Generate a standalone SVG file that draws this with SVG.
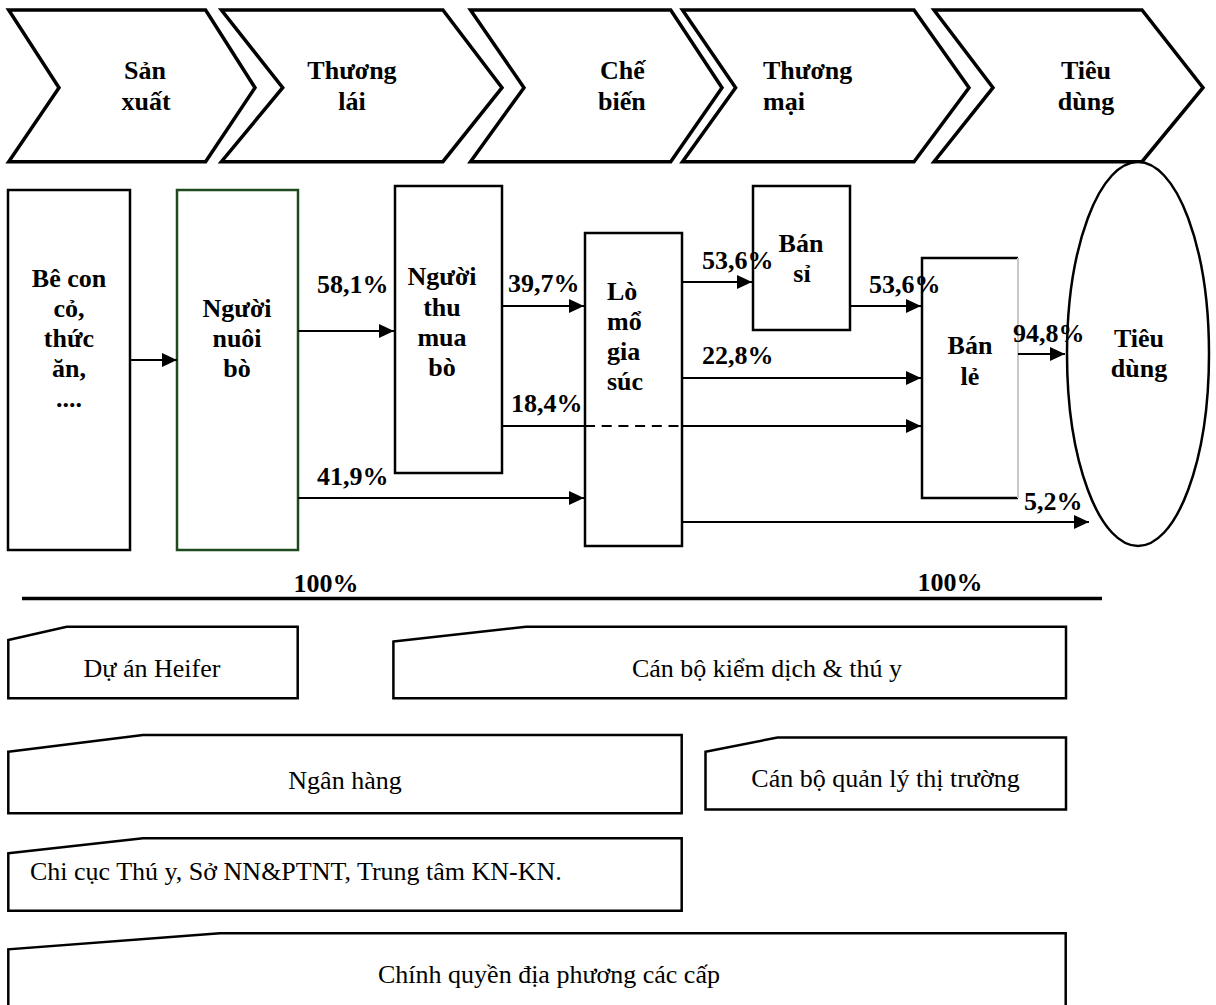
<svg xmlns="http://www.w3.org/2000/svg" width="1216" height="1005" viewBox="0 0 1216 1005">
<style>
.chev{fill:#fff;stroke:#000;stroke-width:3.5;stroke-linejoin:miter}
.box{fill:#fff;stroke:#000;stroke-width:2.5}
.tag{fill:#fff;stroke:#000;stroke-width:2.5;stroke-linejoin:miter}
.b{font-family:"Liberation Serif","Times New Roman",serif;font-weight:bold;font-size:26px;fill:#000}
.r{font-family:"Liberation Serif","Times New Roman",serif;font-size:26px;fill:#000}
.c{text-anchor:middle}
.ln{fill:none;stroke:#000;stroke-width:2}
</style>
<defs>
<marker id="ah" markerWidth="15" markerHeight="14" refX="15" refY="7" orient="auto" markerUnits="userSpaceOnUse"><path d="M0,0 L15,7 L0,14 z" fill="#000"/></marker>
</defs>
<rect width="1216" height="1005" fill="#fff"/>

<g id="stage-sanxuat">
<polygon class="chev" points="8.7,10 205.6,10 255,87.7 205.6,161.7 8.7,161.7 59,87.7"/>
<text class="b c" x="145" y="79">Sản</text><text class="b c" x="146" y="110">xuất</text>
</g>
<g id="stage-thuonglai">
<polygon class="chev" points="221.4,10 442.9,10 502,87.7 442.9,161.7 221.4,161.7 282.7,87.7"/>
<text class="b c" x="352" y="79">Thương</text><text class="b c" x="352" y="110">lái</text>
</g>
<g id="stage-chebien">
<polygon class="chev" points="470.5,10 670.7,10 722,87.7 670.7,161.7 470.5,161.7 524,87.7"/>
<text class="b" x="600" y="79">Chế</text><text class="b" x="598" y="110">biến</text>
</g>
<g id="stage-thuongmai">
<polygon class="chev" points="682.5,10 914,10 969,87.7 914,161.7 682.5,161.7 735.6,87.7"/>
<text class="b" x="763" y="79">Thương</text><text class="b" x="763" y="110">mại</text>
</g>
<g id="stage-tieudung">
<polygon class="chev" points="934,10 1142,10 1203,87.7 1142,161.7 934,161.7 993,87.7"/>
<text class="b c" x="1086" y="79">Tiêu</text><text class="b c" x="1086" y="110">dùng</text>
</g>

<g id="node-becon">
<rect class="box" x="8" y="190" width="122" height="360"/>
<text class="b c" x="69" y="287">Bê con</text>
<text class="b c" x="69" y="317">cỏ,</text>
<text class="b c" x="69" y="347">thức</text>
<text class="b c" x="69" y="377">ăn,</text>
<text class="b c" x="69" y="407">....</text>
</g>
<g id="node-nguoinuoibo">
<rect class="box" x="177" y="190" width="121" height="360" style="stroke:#1f4a1f"/>
<text class="b c" x="237" y="317">Người</text>
<text class="b c" x="237" y="347">nuôi</text>
<text class="b c" x="237" y="377">bò</text>
</g>
<g id="node-thumua">
<rect class="box" x="395" y="186" width="107" height="287"/>
<text class="b c" x="442" y="285">Người</text>
<text class="b c" x="442" y="316">thu</text>
<text class="b c" x="442" y="346">mua</text>
<text class="b c" x="442" y="376">bò</text>
</g>
<g id="node-lomo">
<rect class="box" x="585" y="233" width="97" height="313"/>
<text class="b" x="607" y="300">Lò</text>
<text class="b" x="607" y="330">mổ</text>
<text class="b" x="607" y="360">gia</text>
<text class="b" x="607" y="390">súc</text>
</g>
<g id="node-bansi">
<rect class="box" x="753" y="186" width="97" height="144"/>
<text class="b c" x="801" y="252">Bán</text>
<text class="b c" x="802" y="282">sỉ</text>
</g>
<g id="node-banle">
<path d="M1018,258 H922 V498 H1018" fill="#fff" stroke="#000" stroke-width="2.5"/>
<path d="M1018,258 V498" fill="none" stroke="#c8c8c8" stroke-width="2"/>
<text class="b c" x="970" y="354">Bán</text>
<text class="b c" x="970" y="385">lẻ</text>
</g>
<g id="node-tieudung">
<ellipse cx="1138" cy="354" rx="71" ry="192" fill="#fff" stroke="#000" stroke-width="2.5"/>
<text class="b c" x="1139" y="347">Tiêu</text>
<text class="b c" x="1139" y="377">dùng</text>
</g>

<g id="connectors">
<path class="ln" d="M130,360 H177" marker-end="url(#ah)"/>
<path class="ln" d="M298,331 H394" marker-end="url(#ah)"/>
<path class="ln" d="M298,498 H584" marker-end="url(#ah)"/>
<path class="ln" d="M502,306 H584" marker-end="url(#ah)"/>
<path class="ln" d="M502,426 H585"/>
<path class="ln" d="M585,426 H682" stroke-dasharray="10 6.7"/>
<path class="ln" d="M682,426 H921" marker-end="url(#ah)"/>
<path class="ln" d="M682,282 H752" marker-end="url(#ah)"/>
<path class="ln" d="M682,378 H921" marker-end="url(#ah)"/>
<path class="ln" d="M850,306 H921" marker-end="url(#ah)"/>
<path class="ln" d="M1018,354 H1065" marker-end="url(#ah)"/>
<path class="ln" d="M682,522 H1089" marker-end="url(#ah)"/>
<text class="b" x="317" y="293">58,1%</text>
<text class="b" x="317" y="485">41,9%</text>
<text class="b" x="508" y="292">39,7%</text>
<text class="b" x="511" y="412">18,4%</text>
<text class="b" x="702" y="269">53,6%</text>
<text class="b" x="702" y="364">22,8%</text>
<text class="b" x="869" y="293">53,6%</text>
<text class="b" x="1013" y="342">94,8%</text>
<text class="b" x="1024" y="510">5,2%</text>
</g>

<g id="divider">
<line x1="22" y1="598.5" x2="1102" y2="598.5" stroke="#000" stroke-width="3.5"/>
<text class="b c" x="326" y="592">100%</text>
<text class="b c" x="950" y="591">100%</text>
</g>

<g id="tag-heifer">
<path class="tag" d="M8.3,640 L66.7,626.7 H297.7 V698.3 H8.3 Z"/>
<text class="r c" x="152" y="677">Dự án Heifer</text>
</g>
<g id="tag-kiemdich">
<path class="tag" d="M393.4,641.5 L526,626.7 H1066 V698.3 H393.4 Z"/>
<text class="r c" x="767" y="677">Cán bộ kiểm dịch &amp; thú y</text>
</g>
<g id="tag-nganhang">
<path class="tag" d="M8.3,751.7 L143,735 H681.7 V813.3 H8.3 Z"/>
<text class="r c" x="345" y="789">Ngân hàng</text>
</g>
<g id="tag-quanly">
<path class="tag" d="M705.5,751.7 L777.5,737.5 H1066 V809.5 H705.5 Z"/>
<text class="r c" x="885.5" y="787">Cán bộ quản lý thị trường</text>
</g>
<g id="tag-chicuc">
<path class="tag" d="M8.3,853.3 L143,838.3 H681.7 V910.7 H8.3 Z"/>
<text class="r" x="30" y="880">Chi cục Thú y, Sở NN&amp;PTNT, Trung tâm KN-KN.</text>
</g>
<g id="tag-chinhquyen">
<path class="tag" d="M8.3,1008 V949.3 L220,933.3 H1065.7 V1008"/>
<text class="r c" x="549" y="983">Chính quyền địa phương các cấp</text>
</g>
</svg>
